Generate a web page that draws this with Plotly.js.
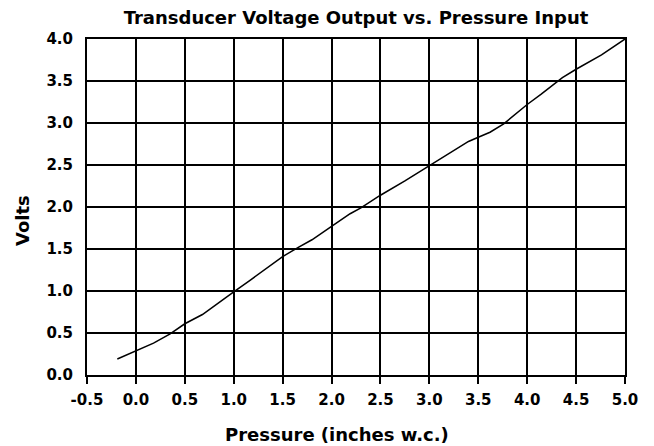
<!DOCTYPE html>
<html>
<head>
<meta charset="utf-8">
<script src="https://cdn.plot.ly/plotly-3.0.1.min.js"></script>
<style>html,body{margin:0;padding:0;background:#fff;}#chart{width:654px;height:446px;}</style>
</head>
<body>
<div id="chart"></div>
<script>
// Data
const pressure = [-0.19, 0.0, 0.18, 0.35, 0.5, 0.68, 0.83, 1.0, 1.17, 1.34, 1.5, 1.66, 1.8, 2.0, 2.19, 2.3, 2.5, 2.75, 3.0, 3.2, 3.4, 3.5, 3.62, 3.76, 3.86, 4.0, 4.14, 4.24, 4.36, 4.5, 4.76, 5.0];
const volts = [0.19, 0.29, 0.38, 0.49, 0.61, 0.72, 0.85, 0.99, 1.13, 1.27, 1.41, 1.52, 1.61, 1.77, 1.92, 1.99, 2.14, 2.31, 2.49, 2.63, 2.78, 2.83, 2.89, 2.99, 3.09, 3.22, 3.34, 3.43, 3.54, 3.64, 3.81, 4.0];
const xTicks = [-0.5, 0.0, 0.5, 1.0, 1.5, 2.0, 2.5, 3.0, 3.5, 4.0, 4.5, 5.0];
const yTicks = [0.0, 0.5, 1.0, 1.5, 2.0, 2.5, 3.0, 3.5, 4.0];
const chartTitle = "Transducer Voltage Output vs. Pressure Input";
const xTitle = "Pressure (inches w.c.)";
const yTitle = "Volts";

const FONT = "DejaVu Sans, Verdana, sans-serif";

const trace = {
  x: pressure, y: volts, type: "scatter", mode: "lines",
  line: {color: "#000", width: 1.5}, hoverinfo: "skip"
};

const layout = {
  width: 654, height: 446,
  margin: {l: 87, r: 29, t: 39, b: 71},
  paper_bgcolor: "#fff", plot_bgcolor: "#fff",
  showlegend: false,
  font: {family: FONT, size: 15, color: "#000", weight: "bold"},
  title: {text: chartTitle, font: {family: FONT, size: 18, color: "#000", weight: "bold"},
          x: 0.5, xref: "paper", xanchor: "center", y: 1 - 18/446, yref: "container", yanchor: "middle"},
  xaxis: {
    range: [-0.5, 5.0], tickvals: xTicks, ticktext: xTicks.map(v => v.toFixed(1)),
    showgrid: true, gridcolor: "#000", gridwidth: 2,
    showline: true, linecolor: "#000", linewidth: 2, mirror: true,
    ticks: "outside", ticklen: 7, tickcolor: "#000", tickwidth: 2,
    ticklabelstandoff: 3,
    zeroline: false,
    tickfont: {family: FONT, size: 15, color: "#000", weight: "bold"}
  },
  yaxis: {
    range: [0, 4.0], tickvals: yTicks, ticktext: yTicks.map(v => v.toFixed(1)),
    showgrid: true, gridcolor: "#000", gridwidth: 2,
    showline: true, linecolor: "#000", linewidth: 2, mirror: true,
    ticks: "", ticklabelstandoff: 9,
    zeroline: false,
    tickfont: {family: FONT, size: 15, color: "#000", weight: "bold"}
  },
  annotations: [
    {text: xTitle, xref: "paper", yref: "paper", x: (337 - 87) / 538, y: -(434 - 375) / 336,
     xanchor: "center", yanchor: "middle", showarrow: false,
     font: {family: FONT, size: 18, color: "#000", weight: "bold"}},
    {text: yTitle, xref: "paper", yref: "paper", x: -(87 - 22) / 538, y: (375 - 221) / 336,
     xanchor: "center", yanchor: "middle", showarrow: false, textangle: -90,
     font: {family: FONT, size: 18, color: "#000", weight: "bold"}}
  ]
};

Plotly.newPlot("chart", [trace], layout, {displayModeBar: false, staticPlot: true});
</script>
</body>
</html>
